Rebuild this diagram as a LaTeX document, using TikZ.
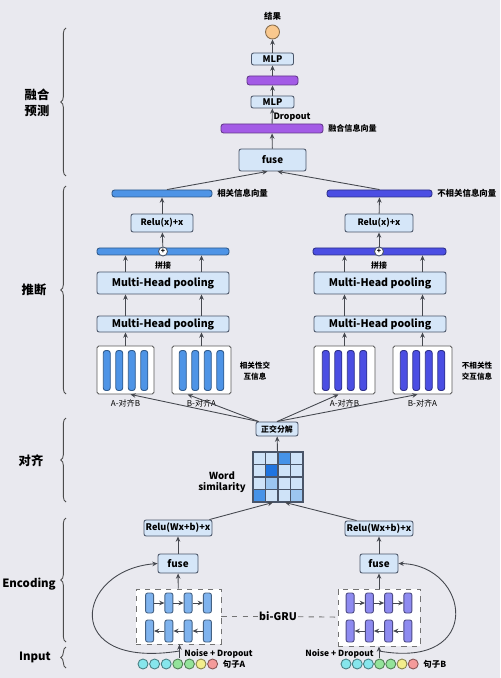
\documentclass[tikz,border=0pt]{standalone}
\usepackage{fontspec}
\setmainfont{Noto Sans CJK SC}
\usepackage{tikz}
\usetikzlibrary{arrows.meta,calc,positioning,decorations.pathreplacing}

\definecolor{bgcol}{HTML}{E9E9EF}
\definecolor{boxfill}{HTML}{D5E6F8}
\definecolor{boxline}{HTML}{4A5568}
\definecolor{arrowc}{HTML}{45484F}
\definecolor{purp}{HTML}{A35BE6}
\definecolor{relblue}{HTML}{4E94E6}
\definecolor{irrblue}{HTML}{4B4EE3}
\definecolor{orangec}{HTML}{F9C88E}
\definecolor{cellA}{HTML}{7FB3EE}
\definecolor{cellB}{HTML}{8E8BF0}
\definecolor{cyanc}{HTML}{86E6EC}
\definecolor{greenc}{HTML}{93E39A}
\definecolor{yellowc}{HTML}{F3EE8C}
\definecolor{redc}{HTML}{F49B9B}
\definecolor{simL}{HTML}{CFE3F8}
\definecolor{simM}{HTML}{9CC6F0}
\definecolor{simD}{HTML}{4693E8}
\definecolor{simX}{HTML}{1F74E0}

\begin{document}
\begin{tikzpicture}[x=0.02cm, y=-0.02cm, line width=0.5pt,
  >={Stealth[length=3pt,width=2.6pt]},
  wh/.style 2 args={minimum width={#1*0.02cm}, minimum height={#2*0.02cm}},
  txt/.style={inner sep=0.5pt, font=\fontsize{#1}{#1}\selectfont\bfseries}, txt/.default=5,
  reg/.style={inner sep=0.5pt, font=\fontsize{#1}{#1}\selectfont}, reg/.default=4.6,
  seklab/.style={align=center, inner sep=0pt, font=\fontsize{7}{9}\selectfont\bfseries},
  box/.style={draw=boxline, fill=boxfill, rounded corners=1.2pt, inner sep=0pt},
  vec/.style={draw=#1!60!black, fill=#1, rounded corners=1.5pt, inner sep=0pt},
  blk/.style={draw=black!65, fill=white, rounded corners=1pt, inner sep=0pt},
  cell/.style={draw=#1!55!black, fill=#1, rounded corners=1.2pt, inner sep=0pt},
  dot/.style={circle, draw=#1!55!black, fill=#1, inner sep=0pt, minimum size=10*0.02cm},
  arr/.style={draw=arrowc, ->},
  brc/.style={decorate, decoration={brace, amplitude=3pt}, draw=black!70}]

  % bakgrunn
  \useasboundingbox (0,0) rectangle (500,678);
  \fill[bgcol] (0,0) rectangle (500,678);

  % klammer
  \draw[brc] (66,176) -- (66,28);
  \node[seklab] (lfus) at (37,103) {融合\\预测};
  \draw[brc] (66,394) -- (66,186);
  \node[seklab] (linf) at (34,290) {推断};
  \draw[brc] (66,502) -- (66,418);
  \node[seklab] (laln) at (31,461) {对齐};
  \draw[brc] (66,642) -- (66,518);
  \node[seklab, font=\fontsize{6.5}{8}\selectfont\bfseries] (lenc) at (29,584) {Encoding};
  \draw[brc] (66,668) -- (66,647);
  \node[seklab, font=\fontsize{6.5}{8}\selectfont\bfseries] (linp) at (35,657) {Input};

  % fusjon og prediksjon
  \node[box, wh={67}{22}, txt=5.6] (fuse) at (272.5,160) {fuse};
  \node[vec=purp, wh={102}{9}] (fvec) at (272,128.5) {};
  \node[txt=4.6, right=2pt of fvec] (fveclab) {融合信息向量};
  \node[box, wh={43}{12}, txt=5.2] (mlp1) at (272.5,102) {MLP};
  \node[vec=purp, wh={51}{9}] (pvec) at (272.5,80.5) {};
  \node[box, wh={42}{12}, txt=5.2] (mlp2) at (272.5,59) {MLP};
  \node[dot=orangec, minimum size=14*0.02cm] (res) at (272.5,32) {};
  \node[txt=4.8, above=1.5pt of res] (reslab) {结果};
  \draw[arr] (fuse) -- (fvec);
  \draw[arr] (fvec) -- node[txt=5, right, pos=0.45] (drop) {Dropout} (mlp1);
  \draw[arr] (mlp1) -- (pvec);
  \draw[arr] (pvec) -- (mlp2);
  \draw[arr] (mlp2) -- (res);

  % relevant gren
  \node[vec=relblue, wh={100}{7}] (rvec) at (162,193.5) {};
  \node[txt=4.8, right=2pt of rvec] (rveclab) {相关信息向量};
  \node[box, wh={62}{18}, txt=5] (relu1) at (162,223) {Relu(x)+x};
  \node[vec=relblue, wh={132}{7}] (cat1) at (163,251.5) {};
  \node[circle, draw=boxline, fill=white, wh={9}{9}, txt=4] (plus1) at (163,251.5) {+};
  \node[txt=4.5, below=2pt of plus1] (pj1) {拼接};
  \node[box, wh={132}{22}, txt=6] (pool1) at (163,283) {Multi-Head pooling};
  \node[box, wh={132}{16}, txt=6] (pool1b) at (163,324) {Multi-Head pooling};
  \node[blk, wh={57}{48}] (ab1) at (125.5,370) {};
  \node[blk, wh={59}{48}] (ba1) at (201.5,370) {};
  \node[reg, below=2pt of ab1] (ab1lab) {A-对齐B};
  \node[reg, below=2pt of ba1] (ba1lab) {B-对齐A};
  \node[txt=4.3, align=center, font=\fontsize{4.3}{6}\selectfont\bfseries] (rint) at (255,371) {相关性交\\互信息};

  % irrelevant gren
  \node[vec=irrblue, wh={105}{7}] (ivec) at (379.5,193.5) {};
  \node[txt=4.8, right=2pt of ivec] (iveclab) {不相关信息向量};
  \node[box, wh={68}{18}, txt=5] (relu2) at (379,223) {Relu(x)+x};
  \node[vec=irrblue, wh={133}{7}] (cat2) at (379.5,251.5) {};
  \node[circle, draw=boxline, fill=white, wh={9}{9}, txt=4] (plus2) at (379,251.5) {+};
  \node[txt=4.5, below=2pt of plus2] (pj2) {拼接};
  \node[box, wh={132}{22}, txt=6] (pool2) at (380,283) {Multi-Head pooling};
  \node[box, wh={132}{16}, txt=6] (pool2b) at (380,324) {Multi-Head pooling};
  \node[blk, wh={61}{48}] (ab2) at (344.5,370) {};
  \node[blk, wh={59}{48}] (ba2) at (422.5,370) {};
  \node[reg, below=2pt of ab2] (ab2lab) {A-对齐B};
  \node[reg, below=2pt of ba2] (ba2lab) {B-对齐A};
  \node[txt=4.3, align=center, font=\fontsize{4.3}{6}\selectfont\bfseries] (iint) at (477,371) {不相关性\\交互信息};

  % soyler i blokkene
  \foreach \n/\c in {ab1/relblue, ba1/relblue, ab2/irrblue, ba2/irrblue}
    \foreach \k [count=\j] in {-18.75,-6.25,6.25,18.75}
      \node[vec=\c, wh={7}{40}] (\n-\j) at ($(\n)+(\k,0.5)$) {};

  % piler i midten
  \draw[arr] (rvec.north) ++(5,0) coordinate (rv) (rv) -- ($(fuse.south)+(-5,0)$);
  \draw[arr] (ivec.north) -- ($(fuse.south)+(5,0)$);
  \draw[arr] (relu1) -- (rvec);
  \draw[arr] (plus1) -- (relu1);
  \draw[arr] (relu2) -- (ivec);
  \draw[arr] (plus2) -- (relu2);
  \foreach \n/\p/\q/\t in {ab1/pool1/pool1b/cat1, ba1/pool1/pool1b/cat1, ab2/pool2/pool2b/cat2, ba2/pool2/pool2b/cat2} {
    \draw[arr] (\n.north) -- (\n.north |- \q.south);
    \draw[arr] (\n.north |- \q.north) -- (\n.north |- \p.south);
    \draw[arr] (\n.north |- \p.north) -- (\n.north |- \t.south);
  }

  % ortogonal dekomponering
  \node[box, wh={42}{14}, txt=4.5] (ortho) at (277,429) {正交分解};
  \draw[arr] ($(ortho.north west)+(3,0)$) -- ($(ab1.south)+(5,0)$);
  \draw[arr] ($(ortho.north west)+(3,0)$) -- ($(ba1.south)+(-14,0)$);
  \draw[arr] (ortho.north) -- ($(ab2.south)+(-6,0)$);
  \draw[arr] (ortho.north) -- ($(ba2.south)+(-5,0)$);

  % ordlikhet
  \foreach \r/\c/\f in {1/1/simL,1/2/simL,1/3/simD,1/4/simL,
                        2/1/simL,2/2/simX,2/3/simL,2/4/simL,
                        3/1/simL,3/2/simM,3/3/simL,3/4/simL,
                        4/1/simD,4/2/simL,4/3/simL,4/4/simM}
    \filldraw[fill=\f, draw=boxline, line width=0.6pt] ({253+(\c-1)*12.5},{452+(\r-1)*12.5}) rectangle ++(12.5,12.5);
  \node[wh={50}{50}, inner sep=0pt] (sim) at (278,477) {};
  \node[align=center, font=\fontsize{5.5}{6.5}\selectfont\bfseries] (wsl) at (222,482) {Word\\similarity};
  \draw[arr] (sim) -- (ortho);

  % koding, setning A
  \node[box, wh={68}{16}, txt=5.2] (reluA) at (178,528) {Relu(Wx+b)+x};
  \node[box, wh={40}{19}, txt=5.6] (fuseA) at (178,563.5) {fuse};
  \node[draw=black!55, dashed, fill=white, wh={85}{55}, inner sep=0pt] (gruA) at (178.5,616.5) {};
  \foreach \k [count=\j] in {-28.9,-9.6,9.6,28.9} {
    \node[cell=cellA, wh={8}{20}] (gAt\j) at ($(gruA)+(\k,-13.5)$) {};
    \node[cell=cellA, wh={8}{22}] (gAb\j) at ($(gruA)+(\k,14.5)$) {};
  }
  \draw[arr] (gruA) -- (fuseA);
  \draw[arr] (fuseA) -- (reluA);
  \draw[arr] ($(reluA.north east)+(-3,0)$) -- ($(sim.south)+(-5,0)$);

  % koding, setning B
  \node[box, wh={68}{15}, txt=5.2] (reluB) at (379,528.5) {Relu(Wx+b)+x};
  \node[box, wh={38}{19}, txt=5.6] (fuseB) at (379,563.5) {fuse};
  \node[draw=black!55, dashed, fill=white, wh={82}{57}, inner sep=0pt] (gruB) at (379,617.5) {};
  \foreach \k [count=\j] in {-28.9,-9.6,9.6,28.9} {
    \node[cell=cellB, wh={8}{20}] (gBt\j) at ($(gruB)+(\k,-14.5)$) {};
    \node[cell=cellB, wh={8}{22}] (gBb\j) at ($(gruB)+(\k,13.5)$) {};
  }
  \draw[arr] (gruB) -- (fuseB);
  \draw[arr] (fuseB) -- (reluB);
  \draw[arr] ($(reluB.north west)+(12,0)$) -- ($(sim.south)+(7,0)$);

  % piler i gru
  \foreach \j [evaluate=\j as \n using int(\j+1)] in {1,2,3} {
    \draw[arr] (gAt\j) -- (gAt\n);
    \draw[arr] (gAb\n) -- (gAb\j);
    \draw[arr] (gBt\j) -- (gBt\n);
    \draw[arr] (gBb\n) -- (gBb\j);
  }

  % bi-GRU
  \node[txt=6] (bigru) at (278,616.5) {bi-GRU};
  \draw[dashed, black!55] (gruA) -- (bigru);
  \draw[dashed, black!55] (bigru) -- (gruB);

  % input
  \foreach \c [count=\j] in {cyanc,cyanc,cyanc,greenc,greenc,yellowc,redc} {
    \node[dot=\c] (sA\j) at ({143+(\j-1)*11.6},664) {};
    \node[dot=\c] (sB\j) at ({346+(\j-1)*11.2},664) {};
  }
  \node[txt=4.8, right=2pt of sA7] (sAlab) {句子A};
  \node[txt=4.8, right=2pt of sB7] (sBlab) {句子B};
  \node[txt=4.8, anchor=west] (ndA) at (183,654) {Noise + Dropout};
  \node[txt=4.8, anchor=east] (ndB) at (375,654) {Noise + Dropout};
  \coordinate (srcA) at (179.5,658);
  \coordinate (srcB) at (379,658);
  \draw[arr] (srcA) -- (srcA |- gruA.south);
  \draw[arr] (srcB) -- (srcB |- gruB.south);
  \draw[arr] ($(srcA)+(0,-7)$) .. controls (60,670) and (75,570) .. (fuseA.west);
  \draw[arr] ($(srcB)+(0,-7)$) .. controls (485,670) and (470,565) .. (fuseB.east);
\end{tikzpicture}
\end{document}
